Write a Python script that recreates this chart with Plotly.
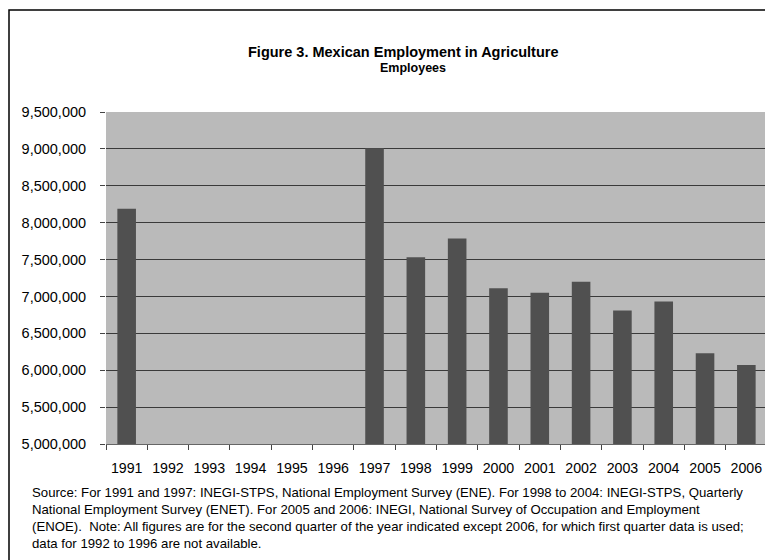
import plotly.graph_objects as go

years = ["1991", "1992", "1993", "1994", "1995", "1996", "1997", "1998",
         "1999", "2000", "2001", "2002", "2003", "2004", "2005", "2006"]
employees = [8190000, None, None, None, None, None, 9010000, 7530000,
             7785000, 7110000, 7050000, 7200000, 6810000, 6930000, 6230000, 6070000]

title_text = "Figure 3. Mexican Employment in Agriculture"
subtitle_text = "Employees"
source_text = ("Source: For 1991 and 1997: INEGI-STPS, National Employment Survey (ENE). For 1998 to 2004: INEGI-STPS, Quarterly<br>"
               "National Employment Survey (ENET). For 2005 and 2006: INEGI, National Survey of Occupation and Employment<br>"
               "(ENOE).  Note: All figures are for the second quarter of the year indicated except 2006, for which first quarter data is used;<br>"
               "data for 1992 to 1996 are not available.")

OFF = 8  # page body margin
W, H = 773 - OFF, 560 - OFF
# target pixel positions in the screenshot
PL, PR, PT, PB = 106, 767, 112, 444
L, T = PL - OFF, PT - OFF
R = W - (PR - OFF)
B = H - (PB - OFF)
pw, ph = (PR - PL), (PB - PT)

def px(x):
    return (x - PL) / pw

def py(y):
    return (PB - y) / ph

fig = go.Figure()
fig.add_trace(go.Bar(
    x=years, y=employees,
    marker=dict(color="#505050", line=dict(width=0)),
    width=0.45,
))

fig.update_layout(
    width=W, height=H,
    margin=dict(l=L, r=R, t=T, b=B, pad=0, autoexpand=False),
    paper_bgcolor="white",
    plot_bgcolor="#bababa",
    showlegend=False,
    font=dict(family="Liberation Sans, Arial, sans-serif", color="black"),
    xaxis=dict(
        type="category", tickson="boundaries", ticks="outside", ticklen=5,
        tickcolor="#444", showline=True, linecolor="#666", linewidth=1,
        tickfont=dict(size=14.2), showgrid=False, ticklabelstandoff=11,
        tickangle=0, automargin=False,
    ),
    yaxis=dict(
        range=[5000000, 9500000], dtick=500000, tickformat=",",
        ticks="outside", ticklen=5, tickcolor="#444",
        showgrid=True, gridcolor="#3a3a3a", gridwidth=1,
        showline=False, zeroline=False, automargin=False,
        tickfont=dict(size=14.5), ticklabelstandoff=11,
    ),
    annotations=[
        dict(text="<b>" + title_text + "</b>", xref="paper", yref="paper",
             x=px(403), y=py(52), xanchor="center", yanchor="middle",
             showarrow=False, font=dict(size=14.5)),
        dict(text="<b>" + subtitle_text + "</b>", xref="paper", yref="paper",
             x=px(413), y=py(68), xanchor="center", yanchor="middle",
             showarrow=False, font=dict(size=12.5)),
        dict(text=source_text, xref="paper", yref="paper",
             x=px(30), y=py(483), xanchor="left", yanchor="top", align="left",
             showarrow=False, font=dict(size=13.2)),
    ],
    shapes=[
        dict(type="rect", xref="paper", yref="paper",
             x0=px(9), x1=px(790), y0=py(580), y1=py(10),
             line=dict(color="black", width=1.5), layer="below"),
    ],
)

fig.write_html("out.html")
